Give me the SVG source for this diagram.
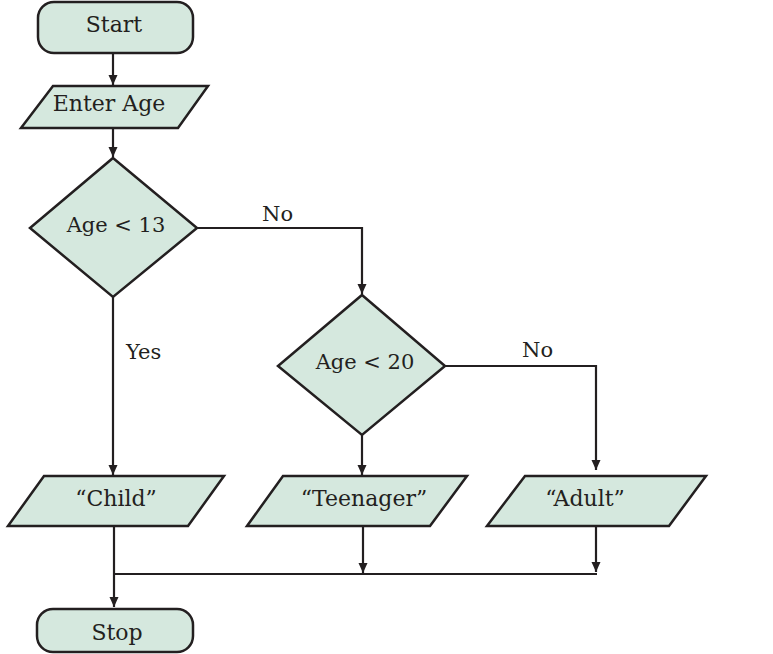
<svg xmlns="http://www.w3.org/2000/svg" width="773" height="654" viewBox="0 0 773 654">
<style>
.shape{fill:#d5e8de;stroke:#231f20;stroke-width:2.5;stroke-linejoin:miter}
.t{font-family:"DejaVu Serif","Liberation Serif",serif;font-size:22px;fill:#231f20;text-anchor:middle}
.d{font-size:21px}
.lbl{font-family:"DejaVu Serif","Liberation Serif",serif;font-size:21px;fill:#231f20}
.c{fill:none;stroke:#231f20;stroke-width:2.2}
</style>
<defs>
<marker id="ah" markerUnits="userSpaceOnUse" markerWidth="10" markerHeight="10" refX="10" refY="4.5" orient="auto">
<path d="M0,0 L10,4.5 L0,9 z" fill="#231f20"/>
</marker>
</defs>
<rect width="773" height="654" fill="#ffffff"/>
<g id="connectors">
<path class="c" d="M113,53 V85" marker-end="url(#ah)"/>
<path class="c" d="M113,128 V157" marker-end="url(#ah)"/>
<path class="c" d="M197,228 H362 V294" marker-end="url(#ah)"/>
<path class="c" d="M113,297 V475" marker-end="url(#ah)"/>
<path class="c" d="M362,435 V475" marker-end="url(#ah)"/>
<path class="c" d="M445,366 H596 V470" marker-end="url(#ah)"/>
<path class="c" d="M114,526 V607" marker-end="url(#ah)"/>
<path class="c" d="M363,526 V573" marker-end="url(#ah)"/>
<path class="c" d="M596,526 V572" marker-end="url(#ah)"/>
<path class="c" d="M114,574 H597"/>
<text class="lbl" x="262" y="221">No</text>
<text class="lbl" x="126" y="359">Yes</text>
<text class="lbl" x="522" y="357">No</text>
</g>
<g id="start">
<rect class="shape" x="38" y="2" width="155" height="51" rx="16" ry="16"/>
<text class="t" x="114" y="32">Start</text>
</g>
<g id="enter-age">
<polygon class="shape" points="53,86 208,86 178,128 21,128"/>
<text class="t" x="109" y="111">Enter Age</text>
</g>
<g id="age13">
<polygon class="shape" points="113,158 197,228 113,297 30,228"/>
<text class="t d" x="116" y="232">Age &lt; 13</text>
</g>
<g id="age20">
<polygon class="shape" points="362,295 445,366 362,435 278,366"/>
<text class="t d" x="365" y="369">Age &lt; 20</text>
</g>
<g id="child">
<polygon class="shape" points="44,476 224,476 188,526 8,526"/>
<text class="t" x="116" y="506">“Child”</text>
</g>
<g id="teenager">
<polygon class="shape" points="283,476 467,476 430,526 247,526"/>
<text class="t" x="364" y="506">“Teenager”</text>
</g>
<g id="adult">
<polygon class="shape" points="525,476 706,476 669,526 487,526"/>
<text class="t" x="585" y="506">“Adult”</text>
</g>
<g id="stop">
<rect class="shape" x="37" y="609" width="156" height="43" rx="16" ry="16"/>
<text class="t" x="117" y="640">Stop</text>
</g>
</svg>
